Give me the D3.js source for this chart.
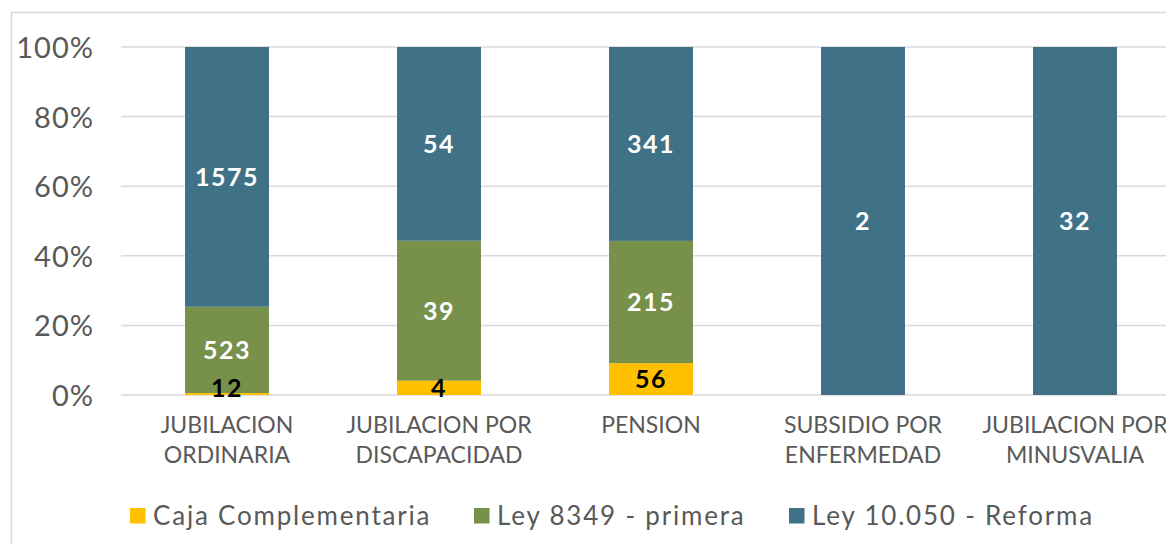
<!DOCTYPE html>
<html>
<head>
<meta charset="utf-8">
<script src="https://cdn.jsdelivr.net/npm/d3@7"></script>
<style>
  body { margin:0; background:#fff; }
  svg text { font-family: Lato, "Open Sans", sans-serif; }
</style>
</head>
<body>
<script>
var categories = [["JUBILACION","ORDINARIA"],["JUBILACION POR","DISCAPACIDAD"],["PENSION"],["SUBSIDIO POR","ENFERMEDAD"],["JUBILACION POR","MINUSVALIA"]];
var seriesNames = ["Caja Complementaria","Ley 8349 - primera","Ley 10.050 - Reforma"];
var caja = [12, 4, 56, 0, 0];
var ley8349 = [523, 39, 215, 0, 0];
var ley10050 = [1575, 54, 341, 2, 32];
var yTicks = [0, 0.2, 0.4, 0.6, 0.8, 1];
var colors = ["#ffc000", "#77904a", "#3f7287"];

var W = 1166, H = 544;
var svg = d3.select("body").append("svg").attr("width", W).attr("height", H);

// chart frame
svg.append("path")
  .attr("d", "M11.5," + H + "V12.5H" + W)
  .attr("fill", "none").attr("stroke", "#d9d9d9").attr("stroke-width", 1.5);

var x = d3.scaleBand()
  .domain(d3.range(categories.length))
  .range([121, 1181])
  .paddingInner(0.604)
  .paddingOuter(0.302);

var y = d3.scaleLinear().domain([0, 1]).range([395, 47]);

// gridlines
svg.append("g").selectAll("line")
  .data(yTicks).enter().append("line")
    .attr("x1", 121).attr("x2", W)
    .attr("y1", function(d){ return y(d); })
    .attr("y2", function(d){ return y(d); })
    .attr("stroke", "#d9d9d9").attr("stroke-width", 1.5);

// y axis
var yAxis = d3.axisLeft(y).tickValues(yTicks).tickFormat(d3.format(".0%")).tickSize(0).tickPadding(0);
var gy = svg.append("g").attr("transform", "translate(94,0)").call(yAxis);
gy.select(".domain").remove();
gy.selectAll("text").attr("fill", "#595959")
  .style("font-size", "29px").style("letter-spacing", "1px").attr("dy", "0.36em");

// stack data
var rows = categories.map(function(c, i){
  return { i: i, s0: caja[i], s1: ley8349[i], s2: ley10050[i] };
});
var stack = d3.stack().keys(["s0","s1","s2"]).offset(d3.stackOffsetExpand);
var series = stack(rows);

var gs = svg.append("g").selectAll("g")
  .data(series).enter().append("g")
    .attr("fill", function(d, k){ return colors[k]; });

gs.selectAll("rect")
  .data(function(d){ return d; }).enter().append("rect")
    .attr("x", function(d){ return x(d.data.i); })
    .attr("width", x.bandwidth())
    .attr("y", function(d){ return y(d[1]); })
    .attr("height", function(d){ return y(d[0]) - y(d[1]); });

// data labels
series.forEach(function(s, k){
  svg.append("g").selectAll("text")
    .data(s.filter(function(d){ return d.data[s.key] > 0; }))
    .enter().append("text")
      .attr("x", function(d){ return x(d.data.i) + x.bandwidth() / 2; })
      .attr("y", function(d){ return Math.min((y(d[0]) + y(d[1])) / 2, 388); })
      .attr("dy", "0.36em")
      .attr("text-anchor", "middle")
      .attr("fill", k === 0 ? "#000" : "#fff")
      .style("font-size", "25px").style("font-weight", "bold").style("letter-spacing", "1.5px")
      .text(function(d){ return d.data[s.key]; });
});

// category labels
var gx = svg.append("g").selectAll("text")
  .data(categories).enter().append("text")
    .attr("x", function(d, i){ return x(i) + x.bandwidth() / 2; })
    .attr("y", 433)
    .attr("text-anchor", "middle")
    .attr("fill", "#595959")
    .style("font-size", "23px");
gx.selectAll("tspan")
  .data(function(d){ return d; }).enter().append("tspan")
    .attr("x", function(){ return d3.select(this.parentNode).attr("x"); })
    .attr("dy", function(d, j){ return j === 0 ? 0 : 30; })
    .text(function(d){ return d; });

// legend
var legendX = [130, 474, 789];
var lg = svg.append("g").selectAll("g")
  .data(seriesNames).enter().append("g")
    .attr("transform", function(d, i){ return "translate(" + legendX[i] + ",515.5)"; });
lg.append("rect")
  .attr("x", 0).attr("y", -7.5).attr("width", 15.5).attr("height", 15.5)
  .attr("fill", function(d, i){ return colors[i]; });
lg.append("text")
  .attr("x", 23).attr("y", 9)
  .attr("fill", "#595959")
  .style("font-size", "26px").style("letter-spacing", "1.8px")
  .text(function(d){ return d; });
</script>
</body>
</html>
